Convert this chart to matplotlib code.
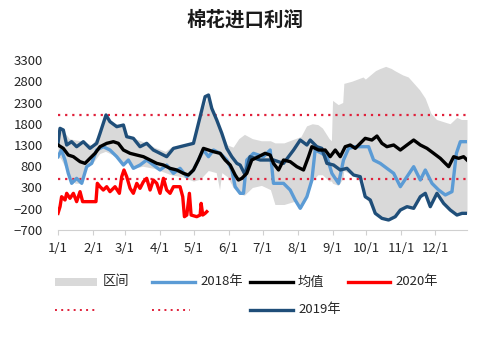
import numpy as np
import matplotlib
matplotlib.use('Agg')
import matplotlib.pyplot as plt
from matplotlib.lines import Line2D
from matplotlib.patches import Rectangle

plt.rcParams['font.family'] = ['Noto Sans CJK SC', 'DejaVu Sans']

# 横轴：一年中的天数（1/1 = 0）
month_day = [0, 31, 59, 90, 120, 151, 181, 212, 243, 273, 304, 334]
month_lbl = ['1/1', '2/1', '3/1', '4/1', '5/1', '6/1', '7/1', '8/1', '9/1', '10/1', '11/1', '12/1']

# 区间（历年最高/最低）
band_day = [0, 2, 10, 15, 20, 25, 30, 37, 42, 50, 58, 62, 67, 75, 85, 95, 100, 110, 120, 126,
            133, 140, 143, 145, 150, 155, 160, 165, 172, 180, 188, 192, 200, 210, 215, 220, 225,
            230, 234, 240, 242, 243, 248, 252, 253, 260, 270, 272, 281, 285, 290, 295, 298, 305,
            310, 315, 320, 325, 330, 335, 341, 347, 353, 357, 362]
band_hi = [1700, 1720, 1450, 1420, 1400, 1350, 1300, 1600, 2000, 1800, 1780, 1500, 1460, 1380,
           1250, 1150, 1250, 1300, 1350, 1970, 2480, 1900, 1700, 1580, 1300, 1250, 1450, 1550,
           1450, 1400, 1400, 1350, 1350, 1450, 1500, 1750, 1800, 1780, 1700, 1450, 1400, 2350,
           2250, 2300, 2750, 2800, 2900, 2850, 3050, 3100, 3150, 3100, 3050, 2950, 2900, 2750,
           2600, 2400, 2050, 1900, 1850, 1800, 1950, 1900, 1900]
band_lo = [1000, 1000, 600, 400, 400, 780, 850, 1100, 1150, 1050, 830, 900, 750, 800, 750, 650,
           600, 550, 450, 500, 700, 650, 250, 650, 550, 300, 150, 120, 300, 350, 250, -100, -100,
           -20, -200, 50, 450, 600, 600, 450, 450, 400, 350, 500, 700, 600, 500, 80, -320, -420,
           -470, -420, -390, -200, -160, -190, 80, 160, -150, 160, -75, -230, -350, -310, -310]

# 2018年
d18 = [0, 3, 6.2, 9.1, 12.1, 16.5, 21, 25.4, 29.8, 34.2, 40.1, 46, 52, 57.9, 62.3, 66.7, 72.6,
       78.5, 84.4, 90.3, 96.2, 102.2, 108, 114, 119.9, 124.3, 128.7, 133.2, 137.6, 143.5, 149.4,
       153.8, 156.8, 161.2, 164.2, 167.1, 173, 181.9, 187.8, 190.7, 199.6, 205.5, 209.9, 214.4,
       220.3, 224.7, 227.6, 233.5, 238, 242.4, 248.3, 252.7, 257.2, 263.1, 270.5, 274.9, 279.3,
       285.2, 291.1, 297.1, 303, 308.9, 314.8, 320.7, 325.1, 331, 336.9, 342.8, 348.7, 352.6,
       356.1, 362]
v18 = [1025, 1182, 947, 633, 398, 515, 398, 790, 868, 1182, 1260, 1182, 1025, 829, 947, 751, 829,
       947, 829, 712, 829, 633, 751, 555, 712, 947, 1182, 1025, 1182, 1104, 947, 712, 319, 163,
       163, 947, 1104, 1025, 1182, 398, 398, 241, 6, -190, 84, 476, 1182, 1104, 1025, 633, 398,
       947, 1221, 1260, 1260, 1260, 947, 868, 751, 633, 319, 555, 790, 476, 712, 398, 241, 124,
       202, 1104, 1378, 1378]

# 2019年
d19 = [0, 1.8, 4.7, 7.7, 12, 16.5, 22.4, 28.3, 34.2, 37.2, 42.5, 46, 52, 57.9, 60.8, 66.7, 72.6,
       78.5, 84.4, 90.3, 96.2, 102.2, 108, 114, 119.9, 125.8, 130.2, 133.2, 136.1, 140.5, 145,
       149.4, 153.8, 158.3, 161.2, 165.6, 170, 179, 190.7, 199.6, 208.5, 214.4, 220.3, 223.2,
       229.1, 233.5, 238, 243.9, 249.8, 255.7, 261.6, 267.5, 271.9, 276.4, 280.8, 286.7, 292.6,
       298.5, 303, 308.9, 314.8, 320.7, 325.1, 329.5, 335.4, 341.3, 347.2, 353.1, 357.6, 362]
v19 = [1339, 1692, 1653, 1300, 1378, 1260, 1378, 1221, 1339, 1574, 2006, 1849, 1731, 1770, 1496,
       1457, 1260, 1339, 1182, 1104, 1025, 1221, 1260, 1300, 1339, 1966, 2437, 2476, 2162, 1888,
       1574, 1221, 1025, 868, 829, 600, 1025, 947, 947, 868, 1182, 1417, 1300, 1417, 1260, 1221,
       868, 829, 712, 751, 594, 555, 84, 6, -308, -426, -465, -387, -230, -151, -190, 84, 163,
       -151, 163, -73, -230, -348, -308, -308]

# 均值
dm = [0, 4.7, 9.1, 13.6, 19.5, 23.9, 28.3, 32.8, 37.2, 43.1, 49, 53.4, 57.9, 63.8, 69.7, 75.6,
      81.5, 87.4, 93.3, 99.2, 105.1, 111, 115.4, 119.9, 124.3, 128.7, 133.2, 137.6, 143.5, 147.9,
      152.4, 156.8, 159.7, 162.7, 167.1, 171.5, 177.4, 183.3, 187.8, 190.7, 195.2, 199.6, 205.5,
      211.4, 217.3, 221.7, 224.7, 230.6, 236.5, 240.9, 245.4, 249.8, 254.2, 258.7, 263.1, 267.5,
      271.9, 277.8, 282.3, 286.7, 291.1, 297.1, 303, 308.9, 314.8, 320.7, 326.6, 332.5, 338.4,
      342.8, 345.8, 350.2, 354.6, 359, 362]
vm = [1300, 1221, 1064, 1025, 908, 868, 986, 1104, 1260, 1339, 1378, 1339, 1182, 1104, 1064, 1025,
      947, 868, 829, 751, 712, 633, 594, 712, 947, 1221, 1182, 1143, 1104, 947, 829, 594, 476,
      515, 633, 947, 1025, 1104, 1064, 868, 712, 947, 908, 790, 712, 1025, 1260, 1182, 1182, 1025,
      1182, 1025, 1260, 1300, 1221, 1339, 1457, 1417, 1511, 1339, 1260, 1300, 1182, 1300, 1417,
      1300, 1221, 1104, 986, 868, 790, 1025, 986, 1025, 947]

# 2020年
d20 = [0, 1.8, 3.2, 6.2, 7.7, 10.6, 13.6, 16.5, 19.5, 21.8, 28.3, 33.6, 34.8, 37.2, 40.1, 43.1,
       46, 50.5, 54.3, 56.4, 58.4, 60.8, 63.8, 66.7, 69.7, 72.6, 75.6, 78.5, 81.5, 84.4, 87.4,
       90.3, 93.3, 96.2, 99.2, 102.2, 108, 110.4, 111.9, 114, 116.3, 117.8, 122.8, 125.8, 126.7,
       128.1, 130.2, 131.7]
v20 = [-308, -151, 84, 6, 163, 45, 163, -33, 202, -33, -33, -33, 398, 319, 241, 319, 202, 319,
       163, 555, 712, 555, 280, 163, 398, 280, 437, 516, 241, 476, 398, 163, 516, 241, 163, 319,
       319, 84, -387, -348, 163, -348, -387, -348, -73, -348, -308, -269]

hline_hi = 2000
hline_lo = 500

c_band = '#D9D9D9'
c18 = '#5B9BD5'
c19 = '#1F4E79'
c20 = '#FF0000'
c_dot = '#E0203A'
W, H = 488, 338

fig = plt.figure(figsize=(W / 100, H / 100), dpi=100)
ax = fig.add_axes([58 / W, 1 - 230 / H, (467 - 58) / W, 170 / H])

ax.fill_between(band_day, band_lo, band_hi, color=c_band, lw=0)
for lv in (hline_hi, hline_lo):
    ax.axhline(lv, color=c_dot, lw=1.6, ls=(0, (1, 2.2)))
ax.plot(d18, v18, color=c18, lw=2.4, solid_joinstyle='round')
ax.plot(d19, v19, color=c19, lw=2.4, solid_joinstyle='round')
ax.plot(dm, vm, color='black', lw=2.4, solid_joinstyle='round')
ax.plot(d20, v20, color=c20, lw=2.4, solid_joinstyle='round')

ax.set_xlim(0, 362)
ax.set_ylim(-700, 3300)
ax.set_yticks(np.arange(-700, 3301, 500))
ax.set_xticks(month_day)
ax.set_xticklabels(month_lbl)
ax.tick_params(axis='y', length=0, pad=11, labelsize=9.5, labelcolor='#262626')
ax.tick_params(axis='x', length=3.5, width=0.8, color='#D0D0D0', pad=5,
               labelsize=9.5, labelcolor='#262626')
for s in ('top', 'right', 'left'):
    ax.spines[s].set_visible(False)
ax.spines['bottom'].set_color('#D0D0D0')
ax.spines['bottom'].set_linewidth(0.8)

fig.text(245 / W, 1 - 20 / H, '棉花进口利润', ha='center', va='center',
         fontsize=14, fontweight='bold', color='#1a1a1a')

# 图例
def fx(x):
    return x / W

def fy(y):
    return 1 - y / H

r1, r2 = 282, 310
fig.add_artist(Rectangle((fx(55), fy(r1 + 4)), fx(97) - fx(55), 8 / H,
                         transform=fig.transFigure, color=c_band, lw=0))
for x0, x1, col in [(152, 195, c18), (250, 293, 'black'), (348, 390, c20)]:
    fig.add_artist(Line2D([fx(x0), fx(x1)], [fy(r1), fy(r1)], color=col, lw=2.4,
                          transform=fig.transFigure))
fig.add_artist(Line2D([fx(250), fx(293)], [fy(r2), fy(r2)], color=c19, lw=2.4,
                      transform=fig.transFigure))
for x0, x1 in [(55, 97), (152, 190)]:
    fig.add_artist(Line2D([fx(x0), fx(x1)], [fy(r2), fy(r2)], color=c_dot, lw=1.4,
                          ls=(0, (1, 2.2)), transform=fig.transFigure))
for x, y, t in [(103, r1, '区间'), (200, r1, '2018年'), (298, r1, '均值'),
                (395, r1, '2020年'), (298, r2, '2019年')]:
    fig.text(fx(x), fy(y), t, ha='left', va='center', fontsize=9.5, color='#262626')

fig.savefig('out.png', dpi=100)
